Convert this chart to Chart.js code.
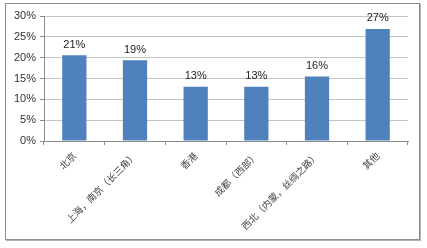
<!DOCTYPE html>
<html>
<head>
<meta charset="utf-8">
<script src="https://cdn.jsdelivr.net/npm/chart.js@4.4.1/dist/chart.umd.min.js"></script>
<style>
  html, body { margin: 0; padding: 0; background: #fff; }
  #wrap { position: relative; width: 427px; height: 248px; }
  #frame {
    position: absolute; left: 5px; top: 3px; width: 413px; height: 235px;
    border: 1px solid #8c8c8c; box-shadow: 1px 1px 0 #b0b0b0;
  }
  canvas { position: absolute; left: 0; top: 0; }
</style>
</head>
<body>
<div id="wrap">
  <div id="frame"></div>
  <canvas id="chart" width="427" height="248"></canvas>
</div>
<script>
const categories = ["北京", "上海，南京（长三角）", "香港", "成都（西部）", "西北（内蒙，丝绸之路）", "其他"];
const shares = [20.6, 19.4, 13.0, 13.0, 15.5, 26.9];
const shareLabels = ["21%", "19%", "13%", "13%", "16%", "27%"];
const yTicks = [0, 5, 10, 15, 20, 25, 30];

const valueLabels = {
  id: "valueLabels",
  afterDatasetsDraw(chart) {
    const ctx = chart.ctx;
    const meta = chart.getDatasetMeta(0);
    ctx.save();
    ctx.font = "11px 'Liberation Sans', Arial, sans-serif";
    ctx.fillStyle = "#222";
    ctx.textAlign = "center";
    ctx.textBaseline = "bottom";
    meta.data.forEach((bar, i) => {
      ctx.fillText(shareLabels[i], bar.x, bar.y - 5);
    });
    ctx.restore();
  },
};

new Chart(document.getElementById("chart"), {
  type: "bar",
  data: {
    labels: categories,
    datasets: [{
      data: shares,
      backgroundColor: "#4f81bd",
      borderWidth: 0,
      barPercentage: 0.4,
      categoryPercentage: 1,
    }],
  },
  options: {
    responsive: false,
    animation: false,
    devicePixelRatio: 1,
    layout: { padding: { top: 16, right: 19, left: 0, bottom: 0 } },
    plugins: { legend: { display: false }, tooltip: { enabled: false } },
    scales: {
      x: {
        afterFit(scale) { scale.height = 107; },
        grid: {
          offset: true,
          drawOnChartArea: false,
          tickLength: 4,
          color: "#8c8c8c",
        },
        border: { color: "#8c8c8c" },
        ticks: {
          minRotation: 45,
          maxRotation: 45,
          padding: 5,
          autoSkip: false,
          color: "#444",
          font: { family: "'Noto Sans CJK SC'", size: 9.5 },
        },
      },
      y: {
        min: 0,
        max: 30,
        afterFit(scale) { scale.width = 44; },
        afterBuildTicks(scale) { scale.ticks = yTicks.map((v) => ({ value: v })); },
        grid: { color: "#c4c4c4", tickLength: 4, tickColor: "#8c8c8c" },
        border: { color: "#8c8c8c" },
        ticks: {
          padding: 4,
          color: "#333",
          font: { family: "'Liberation Sans', Arial, sans-serif", size: 11 },
          callback(value) { return value + "%"; },
        },
      },
    },
  },
  plugins: [valueLabels],
});
</script>
</body>
</html>
